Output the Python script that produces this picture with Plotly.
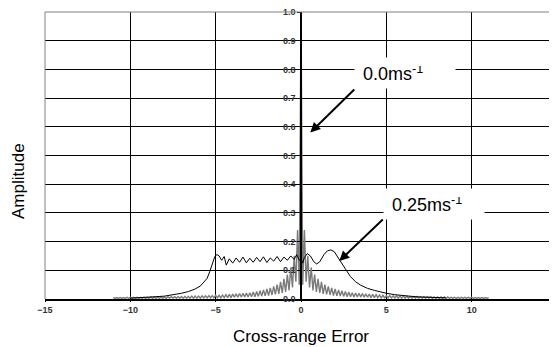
import plotly.graph_objects as go

# ---- data ----
# 0.0 m/s response (grey), regularly sampled from -11.0 in steps of 0.1
gray_x0 = -11.0
gray_dx = 0.1
gray_left = [
    0.005, 0.002, 0.005, 0.002, 0.005, 0.002, 0.005, 0.002, 0.006, 0.002,
    0.006, 0.002, 0.006, 0.002, 0.006, 0.002, 0.006, 0.002, 0.006, 0.002,
    0.006, 0.002, 0.007, 0.002, 0.007, 0.002, 0.007, 0.002, 0.007, 0.002,
    0.007, 0.002, 0.008, 0.003, 0.008, 0.003, 0.008, 0.003, 0.008, 0.003,
    0.009, 0.003, 0.009, 0.003, 0.009, 0.003, 0.010, 0.003, 0.010, 0.003,
    0.010, 0.003, 0.011, 0.004, 0.011, 0.004, 0.012, 0.004, 0.012, 0.004,
    0.013, 0.004, 0.013, 0.004, 0.014, 0.005, 0.015, 0.005, 0.016, 0.005,
    0.017, 0.006, 0.018, 0.006, 0.019, 0.007, 0.020, 0.007, 0.021, 0.007,
    0.022, 0.008, 0.024, 0.008, 0.026, 0.009, 0.029, 0.010, 0.032, 0.011,
    0.035, 0.012, 0.039, 0.014, 0.044, 0.016, 0.050, 0.018, 0.060, 0.021,
    0.070, 0.025, 0.085, 0.030, 0.110, 0.040, 0.150, 0.060, 0.240, 0.050,
]
gray_right = [
    1.000,
    0.050, 0.240, 0.060, 0.150, 0.040, 0.110, 0.030, 0.085, 0.025, 0.070,
    0.021, 0.060, 0.018, 0.050, 0.016, 0.044, 0.014, 0.039, 0.012, 0.035,
    0.011, 0.032, 0.010, 0.029, 0.009, 0.026, 0.008, 0.024, 0.008, 0.022,
    0.007, 0.021, 0.007, 0.020, 0.007, 0.019, 0.006, 0.018, 0.006, 0.017,
    0.005, 0.016, 0.005, 0.015, 0.005, 0.014, 0.004, 0.013, 0.004, 0.012,
    0.004, 0.012, 0.004, 0.011, 0.004, 0.011, 0.003, 0.010, 0.003, 0.010,
    0.003, 0.010, 0.003, 0.009, 0.003, 0.009, 0.003, 0.009, 0.003, 0.008,
    0.003, 0.008, 0.003, 0.008, 0.003, 0.008, 0.002, 0.007, 0.002, 0.007,
    0.002, 0.007, 0.002, 0.007, 0.002, 0.007, 0.002, 0.006, 0.002, 0.006,
    0.002, 0.006, 0.002, 0.006, 0.002, 0.006, 0.002, 0.006, 0.002, 0.006,
    0.002, 0.005, 0.002, 0.005, 0.002, 0.005, 0.002, 0.005, 0.002, 0.005,
]

# 0.25 m/s response (black)
black_x = [-10.0, -9.5, -9.0, -8.5, -8.0, -7.5, -7.0, -6.6, -6.2, -5.9,
           -5.7, -5.5, -5.35, -5.2, -5.05, -4.92, -4.8, -4.65, -4.5, -4.38,
           -4.2, -4.0, -3.8, -3.6, -3.4, -3.2, -3.0, -2.8, -2.6, -2.4,
           -2.2, -2.0, -1.8, -1.6, -1.4, -1.2, -1.0, -0.8, -0.6, -0.4,
           -0.25, -0.1, 0.0, 0.1, 0.2, 0.37, 0.55, 0.75, 0.92, 1.1,
           1.35, 1.55, 1.75, 1.95, 2.15, 2.35, 2.6, 2.9, 3.2, 3.5,
           3.9, 4.3, 4.7, 5.0, 5.5, 6.0, 6.5, 7.0, 7.5, 8.0, 8.5]
black_y = [0.003, 0.004, 0.005, 0.008, 0.010, 0.014, 0.020, 0.026, 0.035, 0.045,
           0.058, 0.072, 0.095, 0.125, 0.148, 0.155, 0.150, 0.135, 0.148, 0.118,
           0.140, 0.125, 0.143, 0.128, 0.146, 0.126, 0.142, 0.128, 0.145, 0.130,
           0.147, 0.127, 0.143, 0.132, 0.148, 0.130, 0.146, 0.135, 0.150, 0.138,
           0.155, 0.135, 0.140, 0.125, 0.145, 0.158, 0.150, 0.130, 0.122, 0.130,
           0.155, 0.168, 0.171, 0.165, 0.145, 0.128, 0.105, 0.078, 0.060, 0.048,
           0.037, 0.030, 0.024, 0.020, 0.015, 0.011, 0.009, 0.007, 0.006, 0.005, 0.004]

x_ticks = [-15, -10, -5, 0, 5, 10, 15]
y_ticks = [0.0, 0.1, 0.2, 0.3, 0.4, 0.5, 0.6, 0.7, 0.8, 0.9, 1.0]

label_slow = "0.0ms<sup>-1</sup>"
label_fast = "0.25ms<sup>-1</sup>"

# ---- figure ----
gray_y = gray_left + gray_right
gray_x = [round(gray_x0 + i * gray_dx, 2) for i in range(len(gray_y))]

FONT = "Arial, Liberation Sans, sans-serif"

fig = go.Figure()
fig.add_trace(go.Scatter(x=gray_x, y=gray_y, mode="lines",
                         line=dict(color="#7a7a7a", width=1.4), hoverinfo="skip"))
fig.add_trace(go.Scatter(x=black_x, y=black_y, mode="lines",
                         line=dict(color="black", width=1), hoverinfo="skip"))

tick_font = dict(size=9, color="#333", weight="bold", family=FONT)

# page body has an 8px margin, so the figure is sized to the remaining area
fig.update_layout(
    width=549, height=339,
    margin=dict(l=37, r=0, t=4, b=48),
    paper_bgcolor="white", plot_bgcolor="white",
    showlegend=False,
    font=dict(family=FONT, color="black"),
    xaxis=dict(range=[-15, 15], tickvals=x_ticks, automargin=False,
               ticklabeloverflow="allow",
               showgrid=True, gridcolor="black", gridwidth=1,
               zeroline=False, showline=True, linecolor="black", linewidth=2,
               ticks="outside", ticklen=1, tickcolor="black",
               tickfont=tick_font),
    yaxis=dict(range=[0, 1.0], tickvals=y_ticks, tickformat=".1f",
               anchor="free", position=0.5, automargin=False,
               ticklabeloverflow="allow",
               showgrid=True, gridcolor="black", gridwidth=1,
               zeroline=False, showline=True, linecolor="black", linewidth=1.5,
               ticks="outside", ticklen=3, tickcolor="black",
               tickfont=tick_font),
    shapes=[
        dict(type="line", xref="paper", yref="paper", x0=0, x1=0, y0=0, y1=1,
             line=dict(color="#808080", width=1)),
        dict(type="line", xref="paper", yref="paper", x0=0, x1=1, y0=1, y1=1,
             line=dict(color="#808080", width=1)),
    ],
)

annotations = [
    # labels in white boxes, each with an arrow from the box's lower-left corner
    dict(x=0.545, y=0.58, ax=3.12, ay=0.73, xref="x", yref="y", axref="x", ayref="y",
         text=label_slow, xanchor="left", yanchor="bottom", align="left",
         width=84, height=14, borderpad=8, bgcolor="white",
         font=dict(size=18, family=FONT, color="black"),
         showarrow=True, arrowhead=2, arrowsize=1, arrowwidth=2,
         arrowcolor="black", standoff=0),
    dict(x=2.24, y=0.132, ax=4.79, ay=0.277, xref="x", yref="y", axref="x", ayref="y",
         text=label_fast, xanchor="left", yanchor="bottom", align="left",
         width=84, height=14, borderpad=8, bgcolor="white",
         font=dict(size=18, family=FONT, color="black"),
         showarrow=True, arrowhead=2, arrowsize=1, arrowwidth=2,
         arrowcolor="black", standoff=0),
    # axis titles
    dict(x=-(45 - 18) / 512, y=(299 - 181) / 287.0, xref="paper", yref="paper",
         xanchor="center", yanchor="middle",
         text="Amplitude", textangle=-90, showarrow=False,
         font=dict(size=17, family=FONT, color="black")),
    dict(x=0.5, y=-(336 - 299) / 287.0, xref="paper", yref="paper",
         xanchor="center", yanchor="middle",
         text="Cross-range Error", showarrow=False,
         font=dict(size=17, family=FONT, color="black")),
]
fig.update_layout(annotations=annotations)

fig.write_html("out.html")
